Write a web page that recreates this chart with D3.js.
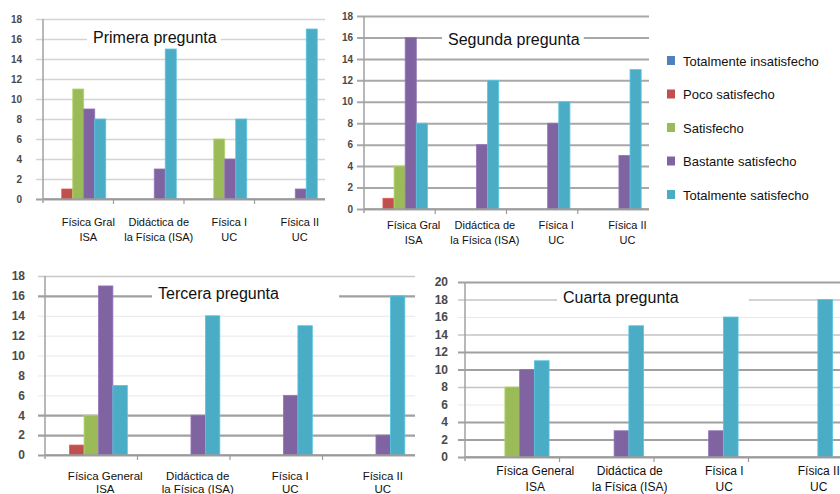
<!DOCTYPE html>
<html>
<head>
<meta charset="utf-8">
<script src="https://cdn.jsdelivr.net/npm/d3@7"></script>
<style>
  html, body { margin: 0; padding: 0; background: #fff; }
  svg { display: block; font-family: "Liberation Sans", Arial, sans-serif; }
</style>
</head>
<body>
<svg id="chart" width="840" height="494"></svg>
<script>
// ---------- DATA ----------
const series = ["Totalmente insatisfecho", "Poco satisfecho", "Satisfecho", "Bastante satisfecho", "Totalmente satisfecho"];
const categoriesShort = [["Física Gral", "ISA"], ["Didáctica de", "la Física (ISA)"], ["Física I", "UC"], ["Física II", "UC"]];
const categoriesLong  = [["Física General", "ISA"], ["Didáctica de", "la Física (ISA)"], ["Física I", "UC"], ["Física II", "UC"]];
const titles = ["Primera pregunta", "Segunda pregunta", "Tercera pregunta", "Cuarta pregunta"];
// values per category, in series order
const primera = [[0, 1, 11, 9, 8], [0, 0, 0, 3, 15], [0, 0, 6, 4, 8], [0, 0, 0, 1, 17]];
const segunda = [[0, 1, 4, 16, 8], [0, 0, 0, 6, 12], [0, 0, 0, 8, 10], [0, 0, 0, 5, 13]];
const tercera = [[0, 1, 4, 17, 7], [0, 0, 0, 4, 14], [0, 0, 0, 6, 13], [0, 0, 0, 2, 16]];
const cuarta  = [[0, 0, 8, 10, 11], [0, 0, 0, 3, 15], [0, 0, 0, 3, 16], [0, 0, 0, 0, 18]];
const ticks18 = [0, 2, 4, 6, 8, 10, 12, 14, 16, 18];
const ticks20 = [0, 2, 4, 6, 8, 10, 12, 14, 16, 18, 20];

// ---------- STYLE / LAYOUT ----------
const colors = ["#4f81bd", "#c0504d", "#9bbb59", "#8064a2", "#4bacc6"];
const color = d3.scaleOrdinal().domain(series).range(colors);

const panels = [
  { title: titles[0], data: primera, cats: categoriesShort, ticks: ticks18,
    left: 43, right: 325, top: 19, bottom: 199, tickFont: 10, tickPad: 21,
    labelY: 226, labelDy: 15, labelOff: 10, labelFont: 11,
    titleX: 93, titleY: 43, titleBgRight: 4,
    grid: { dark: [0], light: [] }, gridDefault: { c: "#d4d4d4", w: 1.5 } },
  { title: titles[1], data: segunda, cats: categoriesShort, ticks: ticks18,
    left: 364, right: 649, top: 16, bottom: 209, tickFont: 10, tickPad: 11,
    labelY: 229, labelDy: 15, labelOff: 14, labelFont: 11,
    titleX: 448, titleY: 45, titleBgRight: 4,
    grid: { dark: [], light: [] }, gridDefault: { c: "#a8a8a8", w: 2 } },
  { title: titles[2], data: tercera, cats: categoriesLong, ticks: ticks18,
    left: 45, right: 415, top: 276, bottom: 455, tickFont: 12, tickPad: 20,
    labelY: 480, labelDy: 12.5, labelOff: 14, labelFont: 11.5,
    titleX: 158, titleY: 299, titleBgRight: 60,
    grid: { dark: [0, 2, 4, 16], light: [6, 8, 10, 12, 14] }, gridDefault: { c: "#c8c8c8", w: 1.5 } },
  { title: titles[3], data: cuarta, cats: categoriesLong, ticks: ticks20,
    left: 465, right: 843, top: 282, bottom: 457, tickFont: 12, tickPad: 17,
    labelY: 475, labelDy: 16, labelOff: 23, labelFont: 12,
    titleX: 563, titleY: 303, titleBgRight: 70,
    grid: { dark: [0, 2, 4, 10, 12, 20], light: [16, 6] }, gridDefault: { c: "#c4c4c4", w: 1.5 } }
];

const svg = d3.select("#chart");

panels.forEach(p => {
  const g = svg.append("g");
  const catIdx = p.cats.map((c, i) => i);
  const x0 = d3.scaleBand().domain(catIdx).range([p.left, p.right]).paddingInner(0.22).paddingOuter(0.11);
  const x1 = d3.scaleBand().domain(series).range([0, x0.bandwidth()]);
  const yMax = d3.max(p.ticks);
  const y = d3.scaleLinear().domain([0, yMax]).range([p.bottom, p.top]);
  const w = p.right - p.left;

  // y axis with gridlines
  const yAxis = d3.axisLeft(y).tickValues(p.ticks).tickSizeInner(-w).tickSizeOuter(0).tickPadding(p.tickPad).tickFormat(d3.format("d"));
  const ya = g.append("g").attr("transform", `translate(${p.left},0)`).call(yAxis);
  ya.select(".domain").remove();
  ya.selectAll(".tick line")
    .attr("x1", -7)
    .attr("stroke", d => p.grid.dark.includes(d) ? "#a0a0a0" : (p.grid.light.includes(d) ? "#e8e8e8" : p.gridDefault.c))
    .attr("stroke-width", d => p.grid.dark.includes(d) ? 2.2 : (p.grid.light.includes(d) ? 1 : p.gridDefault.w));
  ya.selectAll(".tick text")
    .attr("fill", "#4a4a4a")
    .attr("font-weight", "bold")
    .attr("font-size", p.tickFont)
    .attr("font-family", "'Liberation Sans', Arial, sans-serif");

  // title with white background
  const tg = g.append("g");
  const bgRect = tg.append("rect").attr("fill", "#fff");
  const title = tg.append("text")
    .attr("x", p.titleX).attr("y", p.titleY)
    .attr("font-size", 16).attr("fill", "#111")
    .text(p.title);
  const bb = title.node().getBBox();
  bgRect.attr("x", bb.x - 6).attr("y", bb.y - 1)
    .attr("width", bb.width + 6 + p.titleBgRight).attr("height", bb.height + 2);

  // bars
  const groups = g.append("g").selectAll("g").data(p.data).join("g")
    .attr("transform", (d, i) => `translate(${x0(i)},0)`);
  groups.selectAll("rect")
    .data(d => d.map((v, k) => ({ s: series[k], v })).filter(o => o.v > 0))
    .join("rect")
    .attr("x", d => x1(d.s))
    .attr("width", x1.bandwidth())
    .attr("y", d => y(d.v))
    .attr("height", d => y(0) - y(d.v))
    .attr("fill", d => color(d.s))
    .attr("stroke", d => d3.color(color(d.s)).brighter(0.4))
    .attr("stroke-width", 0.8);

  // x axis
  const xAxis = d3.axisBottom(x0).tickSize(0).tickFormat(() => "");
  const xa = g.append("g").attr("transform", `translate(0,${p.bottom})`).call(xAxis);
  xa.select(".domain").attr("stroke", "#9a9a9a").attr("stroke-width", 1.5)
    .attr("d", `M${p.left},0H${p.right}`);
  // category boundary ticks
  g.append("g").selectAll("line").data(catIdx.slice(1)).join("line")
    .attr("x1", i => x0(i) - x0.step() * x0.paddingInner() / 2)
    .attr("x2", i => x0(i) - x0.step() * x0.paddingInner() / 2)
    .attr("y1", p.bottom).attr("y2", p.bottom + 5)
    .attr("stroke", "#9a9a9a").attr("stroke-width", 1.2);
  // vertical axis
  g.append("line")
    .attr("x1", p.left).attr("x2", p.left)
    .attr("y1", y(yMax)).attr("y2", p.bottom + 4)
    .attr("stroke", "#a0a0a0").attr("stroke-width", 1.5);

  // category labels
  xa.selectAll(".tick").each(function(i) {
    const t = d3.select(this).append("text")
      .attr("fill", "#111")
      .attr("font-size", p.labelFont)
      .attr("text-anchor", "middle")
      .attr("transform", `translate(${p.labelOff},${p.labelY - p.bottom})`);
    p.cats[i].forEach((line, k) => {
      t.append("tspan").attr("x", 0).attr("y", k * p.labelDy).text(line);
    });
  });
});

// legend
const ly = d3.scalePoint().domain(series).range([61, 195]);
const lg = svg.append("g").selectAll("g").data(series).join("g")
  .attr("transform", d => `translate(667,${ly(d)})`);
lg.append("rect").attr("x", 0).attr("y", -5).attr("width", 8).attr("height", 9).attr("fill", d => color(d));
lg.append("text").attr("x", 16).attr("y", 4.5).attr("font-size", 13).attr("fill", "#111").text(d => d);
</script>
</body>
</html>
